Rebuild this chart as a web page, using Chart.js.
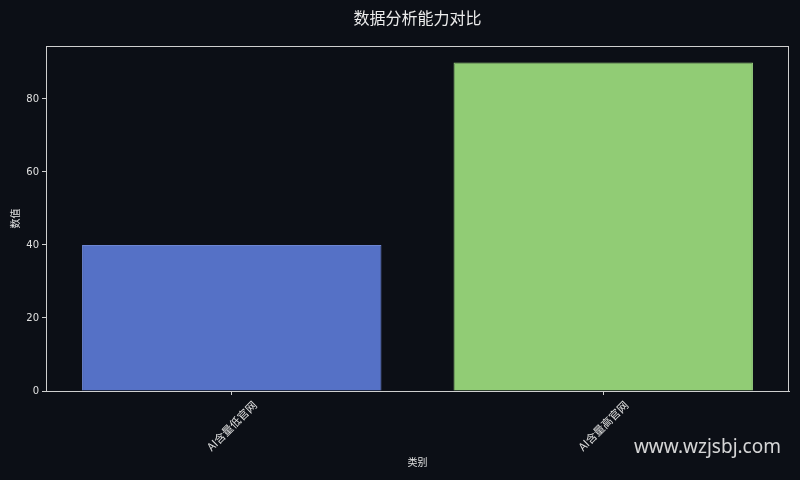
<!DOCTYPE html>
<html lang="zh">
<head>
<meta charset="UTF-8">
<title>数据分析能力对比</title>
<script src="https://cdn.jsdelivr.net/npm/chart.js"></script>
<style>
    html, body { margin: 0; padding: 0; background: #0c0f16; }
    #wrap { width: 800px; height: 480px; }
</style>
</head>
<body>
<div id="wrap"><canvas id="chart" width="800" height="480"></canvas></div>
<script>
// data
const categories = ['AI含量低官网', 'AI含量高官网'];
const values = [40, 90];
const yTicks = [0, 20, 40, 60, 80];
const chartTitle = '数据分析能力对比';

const barColors = ['#5571c6', '#91cc75'];
const barEdges = ['#6d86d2', '#9ad180'];
const fontCJK = '"Noto Sans CJK SC", "Noto Sans", sans-serif';
const textColor = '#e0e0e0';
const spineColor = '#cfcfcf';

// frame, title over the plot, rotated x labels and watermark
const extras = {
    id: 'extras',
    afterDraw(chart) {
        const ctx = chart.ctx;
        const a = chart.chartArea;
        const xs = chart.scales.x;
        ctx.save();
        ctx.strokeStyle = spineColor;
        ctx.lineWidth = 1;
        ctx.strokeRect(a.left + 0.5, a.top + 0.5, a.right - a.left - 1, a.bottom - a.top);

        ctx.font = '16px ' + fontCJK;
        ctx.fillStyle = '#ececec';
        ctx.textAlign = 'center';
        ctx.textBaseline = 'middle';
        ctx.fillText(chartTitle, (a.left + a.right) / 2, 18);

        ctx.font = '11px ' + fontCJK;
        ctx.fillStyle = textColor;
        categories.forEach((c, i) => {
            const x = xs.getPixelForValue(i);
            const w = ctx.measureText(c).width;
            const h = 11;
            const y = a.bottom + 8 + (w + h) * Math.SQRT1_2 / 2;
            ctx.save();
            ctx.translate(x, y);
            ctx.rotate(-Math.PI / 4);
            ctx.fillText(c, 0, 0);
            ctx.restore();
        });

        ctx.font = '19px "Noto Sans", sans-serif';
        ctx.fillStyle = 'rgba(235,235,235,0.9)';
        ctx.textAlign = 'right';
        ctx.fillText('www.wzjsbj.com', 781, 448);
        ctx.restore();
    }
};

new Chart(document.getElementById('chart'), {
    type: 'bar',
    data: {
        labels: categories,
        datasets: [{
            data: values,
            backgroundColor: barColors,
            borderColor: barEdges,
            borderWidth: 1,
            categoryPercentage: 1,
            barPercentage: 0.806
        }]
    },
    options: {
        responsive: false,
        animation: false,
        layout: { padding: { left: 0, right: 11, top: 46, bottom: 0 } },
        plugins: {
            legend: { display: false },
            tooltip: { enabled: false },
            title: { display: false }
        },
        scales: {
            x: {
                offset: true,
                grid: { display: true, drawOnChartArea: false, drawTicks: true, tickLength: 4, color: spineColor, offset: false },
                border: { display: true, color: spineColor },
                ticks: { color: 'transparent', maxRotation: 0, minRotation: 0, font: { size: 10 } },
                title: {
                    display: true, text: '类别', color: textColor,
                    font: { family: fontCJK, size: 10, lineHeight: 1.2 },
                    padding: { top: 12, bottom: 12 }
                },
                afterFit(s) { s.height = 89; }
            },
            y: {
                min: 0,
                max: 94.5,
                grid: { display: true, drawOnChartArea: false, drawTicks: true, tickLength: 4, color: spineColor },
                border: { display: true, color: spineColor },
                afterBuildTicks(s) { s.ticks = yTicks.map(v => ({ value: v })); },
                ticks: { color: textColor, padding: 3, font: { family: '"DejaVu Sans", sans-serif', size: 10 } },
                title: {
                    display: true, text: '数值', color: textColor,
                    font: { family: fontCJK, size: 10, lineHeight: 1.2 },
                    padding: { top: 9, bottom: 9 }
                },
                afterFit(s) { s.width = 46; }
            }
        }
    },
    plugins: [extras]
});
</script>
</body>
</html>
